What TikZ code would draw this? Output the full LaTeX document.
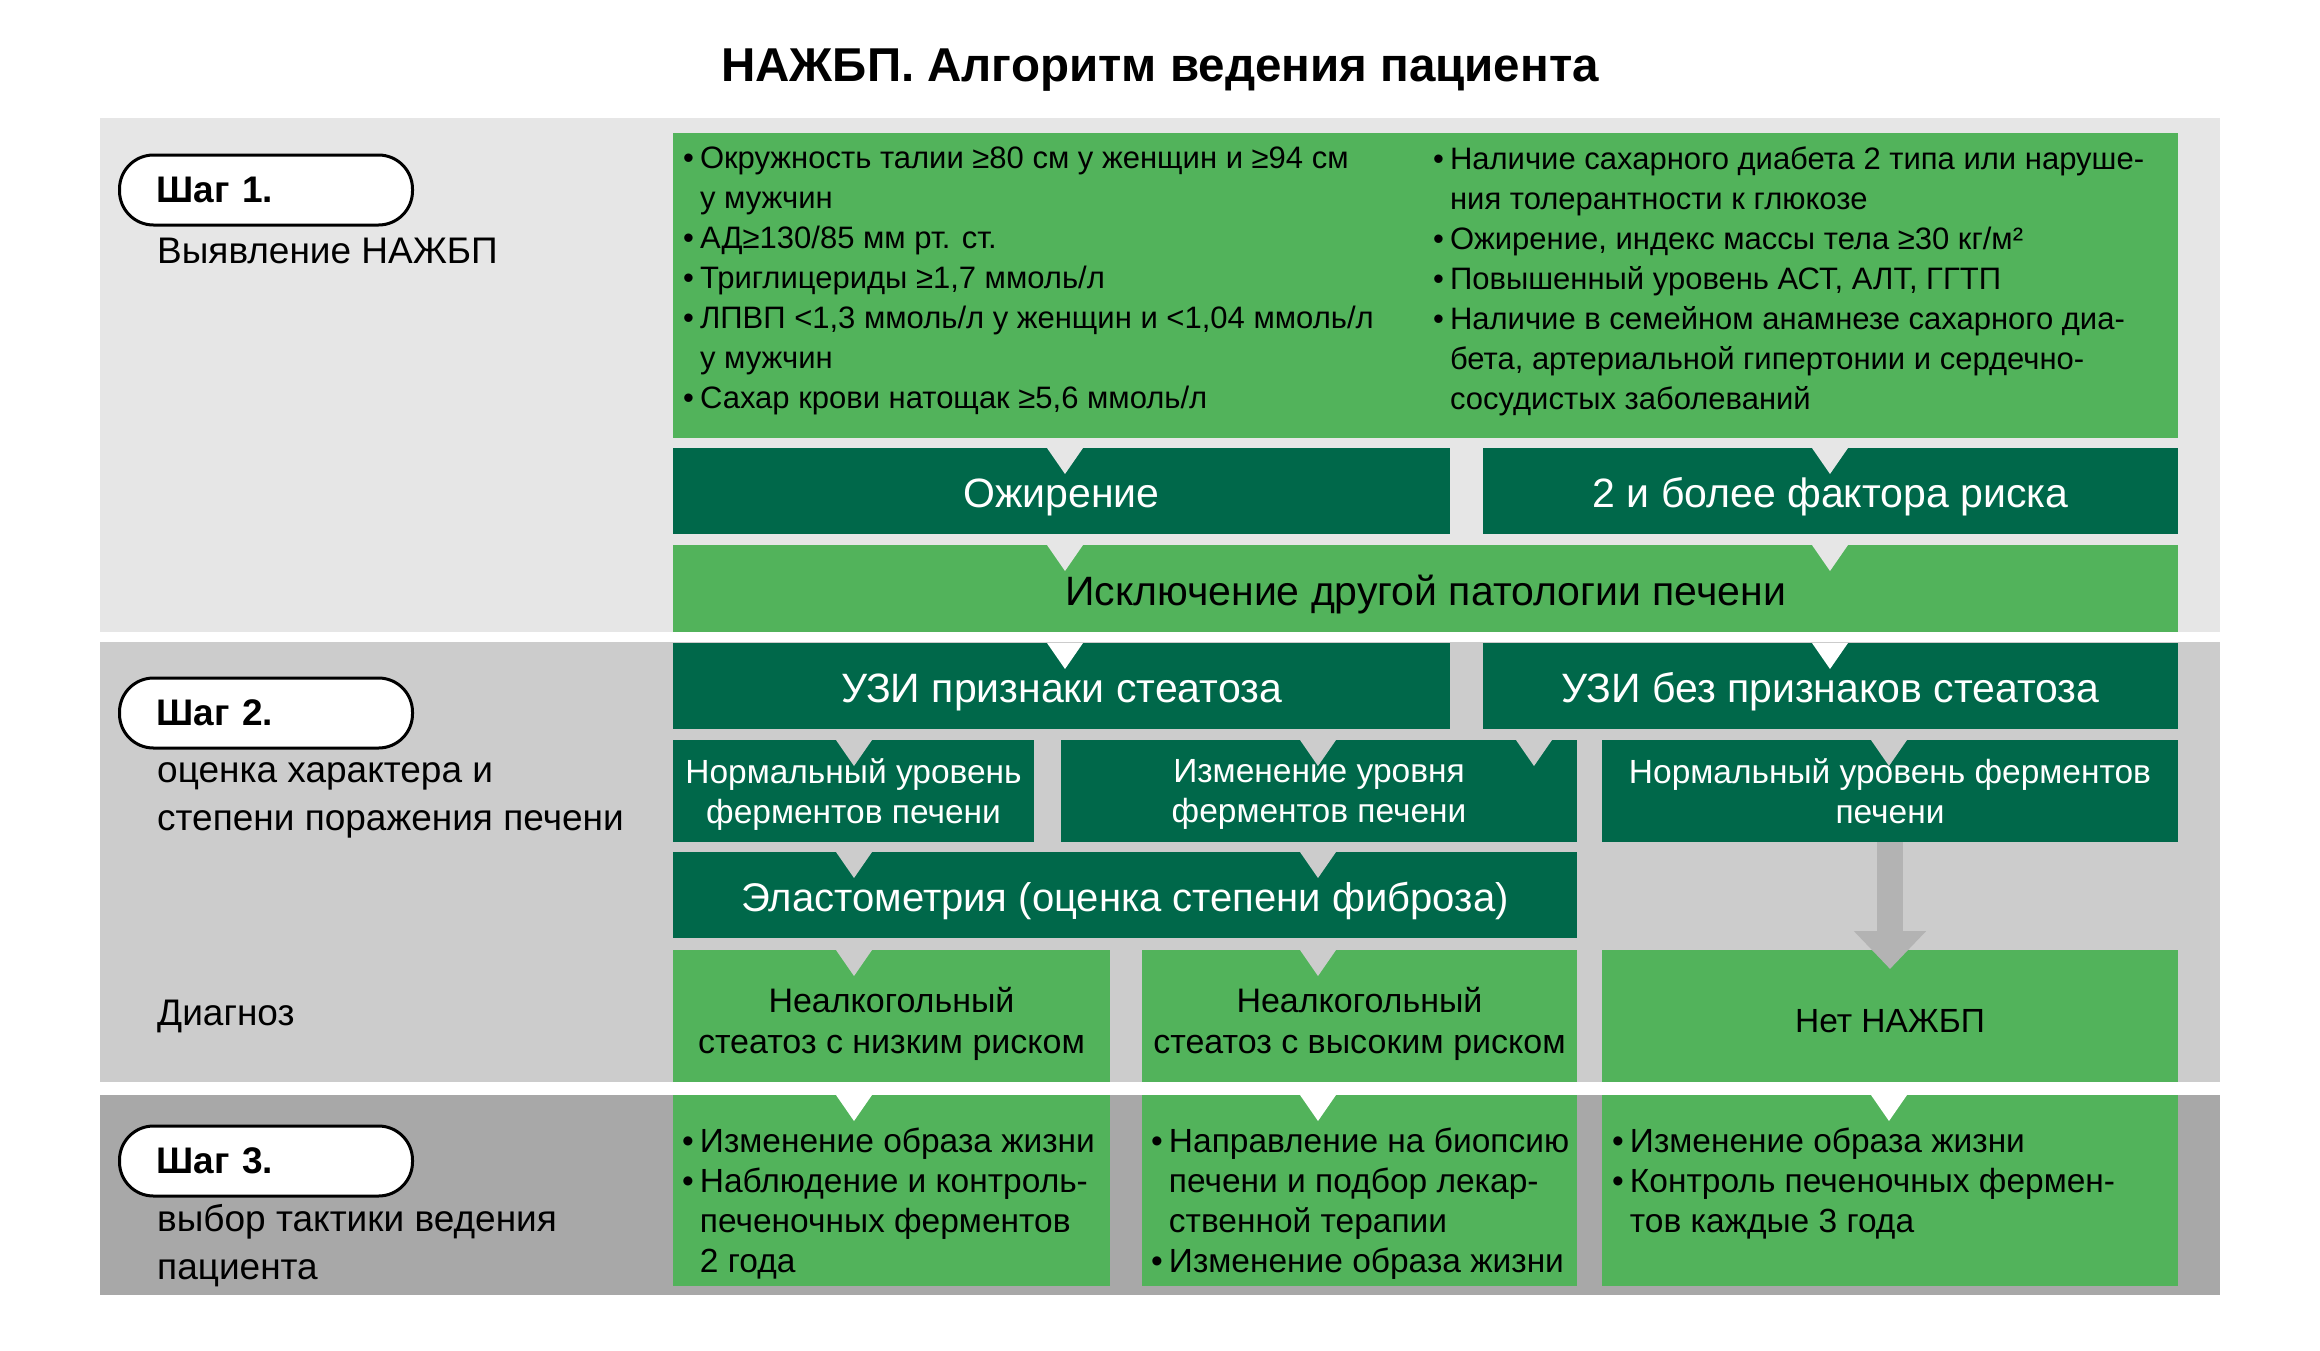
\documentclass[tikz,border=0pt]{standalone}
\usepackage{fontspec}
\setmainfont{Liberation Sans}
\usetikzlibrary{arrows.meta,positioning}
\definecolor{NGreen}{HTML}{52B35B}
\definecolor{NDark}{HTML}{00684A}
\definecolor{NBandA}{HTML}{E6E6E6}
\definecolor{NBandB}{HTML}{CCCCCC}
\definecolor{NBandC}{HTML}{A8A8A8}
\definecolor{NArrow}{HTML}{B3B3B3}

\newcommand\bul{\textbullet\kern6pt}
\newcommand\ind{\hphantom{\textbullet\kern6pt}}
\newcommand\lift{\rule{0pt}{34pt}}
\newcommand\notch[2]{\fill[#1] (#2) ++(-18,0) -- ++(36,0) -- ++(-18,26) -- cycle;}

\begin{document}
\begin{tikzpicture}[x=1pt, y=-1pt, font=\fontsize{33.5}{40}\selectfont,
  sz/.style 2 args={minimum width=#1, minimum height=#2},
  box/.style={anchor=north west, inner sep=0pt, outer sep=0pt, fill=NGreen, align=center, text depth=0pt},
  darkbox/.style={box, fill=NDark, text=white},
  bigtxt/.style={font=\fontsize{41}{46}\selectfont, text height=33pt},
  twoline/.style={font=\fontsize{34}{41}\selectfont},
  listtxt/.style={anchor=north west, inner sep=0pt, align=left},
  pill/.style={draw, line width=3pt, fill=white, rounded corners=34pt, sz={293}{70},
    inner xsep=37pt, text width=219pt, align=left, font=\fontsize{37}{40}\selectfont\bfseries},
  steptxt/.style={anchor=west, inner sep=0pt, align=left, font=\fontsize{37}{48}\selectfont},
  noarrow/.style={line width=26pt, draw=NArrow, -{Triangle[length=38pt, width=70pt]}, shorten >=-19pt}]
\useasboundingbox (0,0) rectangle (2320,1350);
% bands
\fill[NBandA] (100,118) rectangle (2220,632);
\fill[NBandB] (100,642) rectangle (2220,1082);
\fill[NBandC] (100,1095) rectangle (2220,1295);
\node[font=\fontsize{47.5}{52}\selectfont\bfseries] (title) at (1160,70) {НАЖБП. Алгоритм ведения пациента};
% left column
\node[pill] (stepA) at (266,190) {Шаг 1.};
\node[steptxt] (stepAt) at (157,251) {Выявление НАЖБП};
\node[pill] (stepB) at (266,713) {Шаг 2.};
\node[steptxt] (stepBt) at (157,800) {оценка характера и\\степени поражения печени};
\node[steptxt] (diag) at (157,1016) {Диагноз};
\node[pill] (stepC) at (266,1161) {Шаг 3.};
\node[steptxt] (stepCt) at (157,1246) {выбор тактики ведения\\пациента};
% step 1
\node[box, sz={1505}{305}] (risk) at (673,133) {};
\node[listtxt, font=\fontsize{31}{40}\selectfont] (riskL) at (683,147)
  {\bul Окружность талии ≥80 см у женщин и ≥94 см\\\ind у мужчин\\\bul АД≥130/85 мм рт. ст.\\
   \bul Триглицериды ≥1,7 ммоль/л\\\bul ЛПВП <1,3 ммоль/л у женщин и <1,04 ммоль/л\\
   \ind у мужчин\\\bul Сахар крови натощак ≥5,6 ммоль/л};
\node[listtxt, font=\fontsize{31}{40}\selectfont] (riskR) at (1433,147)
  {\bul Наличие сахарного диабета 2 типа или наруше-\\\ind ния толерантности к глюкозе\\
   \bul Ожирение, индекс массы тела ≥30 кг/м²\\\bul Повышенный уровень АСТ, АЛТ, ГГТП\\
   \bul Наличие в семейном анамнезе сахарного диа-\\\ind бета, артериальной гипертонии и сердечно-\\
   \ind сосудистых заболеваний};
\node[darkbox, bigtxt, sz={777}{86}] (obes) at (673,448) {Ожирение};
\node[darkbox, bigtxt, sz={695}{86}] (rfac) at (1483,448) {2 и более фактора риска};
\node[box, bigtxt, sz={1505}{87}] (excl) at (673,545) {Исключение другой патологии печени};
% step 2
\node[darkbox, bigtxt, sz={777}{86}] (usyes) at (673,643) {УЗИ признаки стеатоза};
\node[darkbox, bigtxt, sz={695}{86}] (usno) at (1483,643) {УЗИ без признаков стеатоза};
\node[darkbox, sz={361}{102}] (normA) at (673,740) {Нормальный уровень\\ферментов печени};
\node[darkbox, sz={516}{102}] (chg) at (1061,740) {Изменение уровня\\ферментов печени};
\node[darkbox, sz={576}{102}] (normB) at (1602,740) {Нормальный уровень ферментов\\печени};
\node[darkbox, bigtxt, font=\fontsize{40}{44}\selectfont, sz={904}{86}] (elast) at (673,852) {Эластометрия (оценка степени фиброза)};
\node[box, twoline, sz={437}{132}] (lowr) at (673,950) {\lift Неалкогольный\\стеатоз с низким риском};
\node[box, twoline, sz={435}{132}] (highr) at (1142,950) {\lift Неалкогольный\\стеатоз с высоким риском};
\node[box, sz={576}{132}, text height=33pt] (nonafld) at (1602,950) {Нет НАЖБП};
% step 3
\node[box, sz={437}{191}] (tacA) at (673,1095) {};
\node[box, sz={435}{191}] (tacB) at (1142,1095) {};
\node[box, sz={576}{191}] (tacC) at (1602,1095) {};
\node[listtxt] (tacAt) at (682,1128) {\bul Изменение образа жизни\\\bul Наблюдение и контроль-\\\ind печеночных ферментов\\\ind 2 года};
\node[listtxt] (tacBt) at (1151,1128) {\bul Направление на биопсию\\\ind печени и подбор лекар-\\\ind ственной терапии\\\bul Изменение образа жизни};
\node[listtxt] (tacCt) at (1612,1128) {\bul Изменение образа жизни\\\bul Контроль печеночных фермен-\\\ind тов каждые 3 года};
% notches
\coordinate (colA) at (1065,0);
\coordinate (colB) at (1830,0);
\coordinate (colC) at (854,0);
\coordinate (colD) at (1318,0);
\coordinate (colE) at (1534,0);
\coordinate (colF) at (1889,0);
\notch{NBandA}{obes.north -| colA} \notch{NBandA}{rfac.north -| colB}
\notch{NBandA}{excl.north -| colA} \notch{NBandA}{excl.north -| colB}
\notch{white}{usyes.north -| colA} \notch{white}{usno.north -| colB}
\notch{NBandB}{normA.north -| colC} \notch{NBandB}{chg.north -| colD}
\notch{NBandB}{chg.north -| colE} \notch{NBandB}{normB.north -| colF}
\notch{NBandB}{elast.north -| colC} \notch{NBandB}{elast.north -| colD}
\notch{NBandB}{lowr.north -| colC} \notch{NBandB}{highr.north -| colD}
\notch{white}{tacA.north -| colC} \notch{white}{tacB.north -| colD}
\notch{white}{tacC.north -| colF}
\draw[noarrow] (normB.south) -- (nonafld.north);
\end{tikzpicture}
\end{document}
